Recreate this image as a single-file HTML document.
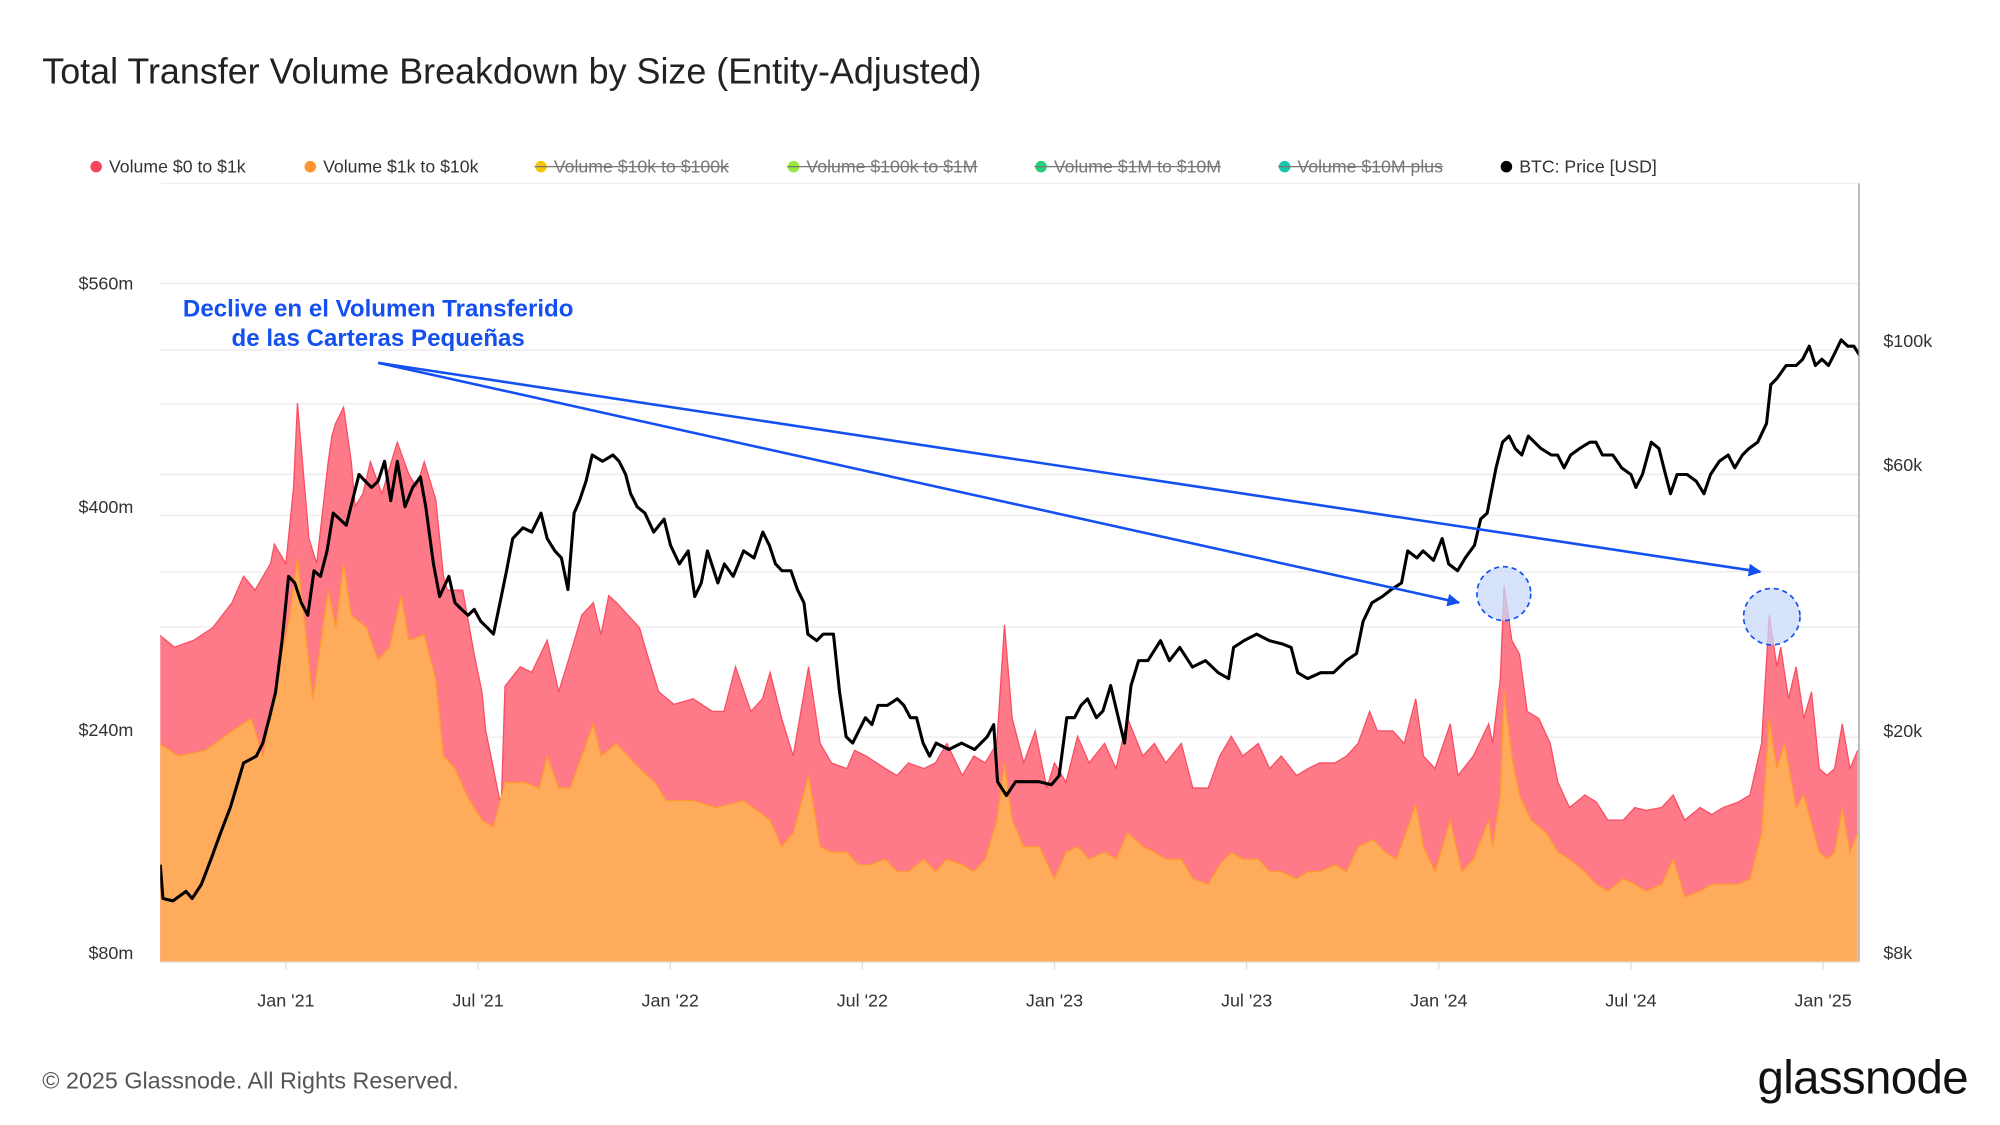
<!DOCTYPE html>
<html><head><meta charset="utf-8"><style>
html,body{margin:0;padding:0;background:#fff;}
svg{display:block;font-family:"Liberation Sans",sans-serif;}
</style></head><body>
<svg id="chart" width="2000" height="1125" viewBox="0 0 1560 877.5" xmlns="http://www.w3.org/2000/svg">
<rect x="0" y="0" width="1560" height="877.5" fill="#fff"/>
<text x="33" y="65" font-size="28" fill="#222">Total Transfer Volume Breakdown by Size (Entity-Adjusted)</text>
<g id="legend" font-size="13.8" fill="#333"></g>
<g id="grid"></g>
<defs><clipPath id="pc"><rect x="125" y="143" width="1325" height="607"/></clipPath>
<marker id="ah" viewBox="0 0 10 10" refX="9" refY="5" markerWidth="5" markerHeight="5" orient="auto"><path d="M0,0 L10,5 L0,10 z" fill="#1450f0"/></marker></defs>
<g id="plot" clip-path="url(#pc)"></g>
<line x1="1450" y1="143" x2="1450" y2="750" stroke="#999" stroke-width="1"/>
<line x1="125" y1="750.5" x2="1450" y2="750.5" stroke="#e6e6e6" stroke-width="1"/>
<g id="axes" font-size="14" fill="#333"></g>
<g id="annot">
<text x="295" y="247" font-size="18.8" font-weight="bold" fill="#1450f0" text-anchor="middle">Declive en el Volumen Transferido</text>
<text x="295" y="270" font-size="18.8" font-weight="bold" fill="#1450f0" text-anchor="middle">de las Carteras Pequeñas</text>
<line x1="295" y1="283" x2="1138" y2="470" stroke="#1450f0" stroke-width="2" marker-end="url(#ah)"/>
<line x1="295" y1="283" x2="1373" y2="446" stroke="#1450f0" stroke-width="2" marker-end="url(#ah)"/>
<ellipse cx="1173" cy="463" rx="21" ry="21" fill="#c9d9fa" fill-opacity="0.75" stroke="#1450f0" stroke-width="1.3" stroke-dasharray="4,3"/>
<ellipse cx="1382" cy="481" rx="22" ry="22" fill="#c9d9fa" fill-opacity="0.75" stroke="#1450f0" stroke-width="1.3" stroke-dasharray="4,3"/>
</g>
<text x="33" y="849" font-size="18.2" fill="#555">© 2025 Glassnode. All Rights Reserved.</text>
<text x="1535" y="853" font-size="37" fill="#111" text-anchor="end" letter-spacing="-0.5">glassnode</text>
</svg>
<script>
// Data (dates as decimal years, volume in $m, price in USD)
const redDates=[2020.67,2020.71,2020.76,2020.81,2020.86,2020.89,2020.92,2020.96,2020.97,2021.00,2021.02,2021.03,2021.04,2021.06,2021.08,2021.11,2021.12,2021.13,2021.15,2021.17,2021.18,2021.20,2021.22,2021.25,2021.27,2021.29,2021.32,2021.34,2021.36,2021.39,2021.41,2021.42,2021.46,2021.49,2021.51,2021.52,2021.54,2021.56,2021.57,2021.61,2021.64,2021.68,2021.71,2021.74,2021.77,2021.80,2021.82,2021.84,2021.86,2021.89,2021.92,2021.94,2021.97,2022.01,2022.06,2022.11,2022.14,2022.17,2022.21,2022.24,2022.26,2022.29,2022.32,2022.36,2022.39,2022.42,2022.46,2022.48,2022.51,2022.56,2022.59,2022.62,2022.66,2022.69,2022.72,2022.76,2022.79,2022.82,2022.85,2022.87,2022.89,2022.92,2022.95,2022.98,2023.00,2023.03,2023.06,2023.09,2023.13,2023.16,2023.19,2023.23,2023.26,2023.29,2023.33,2023.36,2023.40,2023.43,2023.46,2023.49,2023.53,2023.56,2023.59,2023.63,2023.66,2023.69,2023.73,2023.76,2023.79,2023.82,2023.84,2023.88,2023.91,2023.94,2023.96,2023.99,2024.03,2024.05,2024.09,2024.13,2024.14,2024.16,2024.17,2024.19,2024.21,2024.23,2024.26,2024.29,2024.31,2024.34,2024.38,2024.41,2024.44,2024.48,2024.51,2024.54,2024.58,2024.61,2024.64,2024.68,2024.71,2024.74,2024.78,2024.81,2024.84,2024.86,2024.88,2024.89,2024.91,2024.93,2024.95,2024.97,2024.99,2025.01,2025.03,2025.05,2025.07,2025.09];
const redTotal=[308,299,304,313,331,350,340,359,373,359,414,474,442,377,359,432,451,460,471,432,400,409,432,409,428,446,423,414,432,405,350,340,340,294,267,239,212,184,271,285,281,304,267,294,322,331,308,336,331,322,313,294,267,258,262,253,253,285,253,262,281,248,221,285,230,216,212,225,221,212,207,216,212,216,230,207,221,216,230,315,248,216,239,198,216,202,235,216,230,212,248,221,230,216,230,198,198,221,235,221,230,212,221,207,212,216,216,221,230,253,239,239,230,262,221,212,244,207,221,244,230,276,343,304,294,253,248,230,202,184,193,188,175,175,184,182,184,193,175,184,179,184,188,193,230,322,285,299,262,285,248,267,212,207,212,244,212,225];
const orangeDates=[2020.67,2020.72,2020.79,2020.86,2020.91,2020.94,2020.97,2021.01,2021.03,2021.05,2021.07,2021.11,2021.13,2021.15,2021.17,2021.21,2021.24,2021.27,2021.30,2021.32,2021.36,2021.39,2021.41,2021.44,2021.47,2021.51,2021.54,2021.57,2021.62,2021.66,2021.68,2021.71,2021.74,2021.77,2021.80,2021.82,2021.86,2021.89,2021.92,2021.96,2021.99,2022.06,2022.12,2022.19,2022.26,2022.29,2022.32,2022.36,2022.39,2022.42,2022.46,2022.49,2022.52,2022.56,2022.59,2022.62,2022.66,2022.69,2022.72,2022.76,2022.79,2022.82,2022.85,2022.87,2022.89,2022.92,2022.96,2023.00,2023.03,2023.06,2023.09,2023.13,2023.16,2023.19,2023.23,2023.26,2023.29,2023.33,2023.36,2023.40,2023.43,2023.46,2023.49,2023.53,2023.56,2023.59,2023.63,2023.66,2023.69,2023.73,2023.76,2023.79,2023.83,2023.86,2023.89,2023.94,2023.96,2023.99,2024.03,2024.06,2024.09,2024.13,2024.14,2024.16,2024.17,2024.19,2024.21,2024.24,2024.28,2024.31,2024.34,2024.38,2024.41,2024.44,2024.48,2024.51,2024.54,2024.58,2024.61,2024.64,2024.68,2024.71,2024.74,2024.78,2024.81,2024.84,2024.86,2024.88,2024.90,2024.93,2024.95,2024.99,2025.01,2025.03,2025.05,2025.07,2025.09];
const orangeVol=[230,221,225,239,248,221,267,322,363,313,262,340,313,359,322,313,290,299,336,304,308,276,221,212,193,175,170,202,202,198,221,198,198,221,244,221,230,221,212,202,189,189,184,189,175,156,166,207,156,152,152,143,143,147,138,138,147,138,147,143,138,147,175,216,175,156,156,133,152,156,147,152,147,166,156,152,147,147,133,129,143,152,147,147,138,138,133,138,138,143,138,156,161,152,147,186,156,138,175,138,147,175,156,193,267,221,193,175,166,152,147,138,129,124,133,129,124,129,147,120,124,129,129,129,133,166,248,212,230,184,193,152,147,152,184,152,166];
const priceDates=[2020.673,2020.680,2020.706,2020.740,2020.756,2020.780,2020.806,2020.830,2020.856,2020.890,2020.923,2020.940,2020.957,2020.973,2020.990,2021.007,2021.023,2021.040,2021.057,2021.073,2021.090,2021.107,2021.123,2021.140,2021.157,2021.173,2021.190,2021.207,2021.223,2021.240,2021.257,2021.273,2021.290,2021.310,2021.330,2021.350,2021.364,2021.384,2021.400,2021.424,2021.440,2021.457,2021.474,2021.490,2021.507,2021.524,2021.540,2021.557,2021.574,2021.590,2021.617,2021.640,2021.664,2021.680,2021.700,2021.717,2021.734,2021.750,2021.764,2021.781,2021.797,2021.824,2021.851,2021.867,2021.884,2021.897,2021.914,2021.934,2021.957,2021.984,2022.001,2022.024,2022.047,2022.064,2022.081,2022.097,2022.124,2022.141,2022.164,2022.191,2022.218,2022.241,2022.258,2022.274,2022.291,2022.314,2022.331,2022.348,2022.358,2022.381,2022.398,2022.425,2022.441,2022.458,2022.475,2022.491,2022.508,2022.525,2022.541,2022.565,2022.591,2022.608,2022.625,2022.641,2022.658,2022.675,2022.692,2022.725,2022.758,2022.792,2022.825,2022.842,2022.852,2022.875,2022.899,2022.925,2022.959,2022.992,2023.012,2023.032,2023.052,2023.069,2023.086,2023.109,2023.126,2023.146,2023.166,2023.182,2023.199,2023.219,2023.243,2023.276,2023.299,2023.326,2023.359,2023.393,2023.426,2023.453,2023.466,2023.493,2023.526,2023.559,2023.593,2023.616,2023.633,2023.659,2023.693,2023.726,2023.759,2023.786,2023.803,2023.826,2023.853,2023.876,2023.903,2023.919,2023.943,2023.959,2023.986,2024.009,2024.026,2024.049,2024.069,2024.093,2024.109,2024.126,2024.149,2024.166,2024.183,2024.199,2024.216,2024.233,2024.249,2024.266,2024.293,2024.309,2024.326,2024.343,2024.366,2024.393,2024.409,2024.426,2024.453,2024.476,2024.500,2024.513,2024.530,2024.553,2024.573,2024.590,2024.603,2024.620,2024.646,2024.670,2024.690,2024.707,2024.730,2024.753,2024.770,2024.790,2024.807,2024.830,2024.853,2024.864,2024.880,2024.904,2024.930,2024.947,2024.964,2024.980,2024.997,2025.014,2025.031,2025.047,2025.064,2025.080,2025.096];
const priceK=[11.5,10.0,9.9,10.3,10.0,10.6,11.8,13.1,14.6,17.5,18.0,19.0,21.1,23.4,29.0,37.8,36.8,33.9,32.2,38.7,37.8,42.0,49.1,47.9,46.7,51.7,57.6,56.0,54.6,56.0,60.8,51.7,60.8,50.4,54.6,57.0,50.4,39.8,34.8,37.8,33.9,33.0,32.2,33.0,31.4,30.6,29.8,33.9,38.7,44.2,46.2,45.4,49.1,44.2,42.0,40.8,35.8,49.1,51.7,56.0,62.4,60.8,62.4,60.8,57.6,53.2,50.4,49.1,45.4,47.9,43.0,39.8,42.0,34.8,36.8,42.0,36.8,39.8,37.8,42.0,40.8,45.4,43.0,39.8,38.7,38.7,35.8,33.9,29.8,29.0,29.8,29.8,23.4,19.5,19.0,20.0,21.1,20.5,22.2,22.2,22.8,22.2,21.1,21.1,19.0,18.0,19.0,18.5,19.0,18.5,19.5,20.5,16.2,15.3,16.2,16.2,16.2,16.0,16.6,21.1,21.1,22.2,22.8,21.1,21.7,24.1,21.1,19.0,24.1,26.7,26.7,29.0,26.7,28.2,26.0,26.7,25.4,24.8,28.2,29.0,29.8,29.0,28.6,28.2,25.4,24.8,25.4,25.4,26.7,27.5,31.4,33.9,34.8,35.8,36.8,42.0,40.8,42.0,40.4,44.2,39.8,38.7,40.8,43.0,47.9,49.1,59.2,65.8,67.5,64.1,62.4,67.5,65.8,64.1,62.4,62.4,59.2,62.4,64.1,65.8,65.8,62.4,62.4,59.2,57.6,54.6,57.6,65.8,64.1,57.6,53.2,57.6,57.6,56.0,53.2,57.6,60.8,62.4,59.2,62.4,64.1,65.8,71.1,83.4,85.6,90.3,90.3,92.7,97.8,90.3,92.7,90.3,95.2,100.4,97.8,97.8,94.0];
const leftTicks=[80,240,400,560];
const leftTickLabels=["$80m","$240m","$400m","$560m"];
const rightTicks=[8000,20000,60000,100000];
const rightTickLabels=["$8k","$20k","$60k","$100k"];
const xTicks=[2021,2021.5,2022,2022.5,2023,2023.5,2024,2024.5,2025];
const xTickLabels=["Jan '21","Jul '21","Jan '22","Jul '22","Jan '23","Jul '23","Jan '24","Jul '24","Jan '25"];
const legendLabels=["Volume $0 to $1k","Volume $1k to $10k","Volume $10k to $100k","Volume $100k to $1M","Volume $1M to $10M","Volume $10M plus","BTC: Price [USD]"];

const NS="http://www.w3.org/2000/svg";
const X0=125,X1=1450,YB=750;
function xS(t){return 223+(t-2021)*299.75;}
function yL(v){return 743-(v-80)*174/160;}
function yR(p){return 743-Math.log10(p/8000)*435;}
function mk(tag,attrs,parent){const e=document.createElementNS(NS,tag);for(const k in attrs)e.setAttribute(k,attrs[k]);parent.appendChild(e);return e;}

const legend=document.getElementById('legend');
const legX=[75,242,422,619,812,1002,1175];
const legC=["#f6465d","#ff9431","#f5c800","#96e83c","#1fd17a","#17c7a8","#000"];
for(let i=0;i<legendLabels.length;i++){
  const g=mk('g',{},legend);
  
  
  const off=i>=2&&i<=5;
  mk('circle',{cx:legX[i],cy:130,r:4.5,fill:legC[i]},g);
  const t=mk('text',{x:legX[i]+10,y:134.5,fill:off?'#777':'#333'},g);
  t.textContent=legendLabels[i];
  if(off){const w=t.getComputedTextLength();mk('line',{x1:legX[i]-5,y1:130,x2:legX[i]+10+w,y2:130,stroke:'#777','stroke-width':1},g);}
}

const grid=document.getElementById('grid');
[221,273,315,370,402,446,489,575].forEach(y=>{mk('line',{x1:X0,y1:y,x2:X1,y2:y,stroke:'#efefef','stroke-width':1.3},grid);});
mk('line',{x1:X0,y1:143,x2:X1,y2:143,stroke:'#efefef','stroke-width':1},grid);

const plot=document.getElementById('plot');
function areaPath(ds,vs){let d='M'+xS(ds[0])+','+YB;for(let i=0;i<ds.length;i++)d+=' L'+xS(ds[i]).toFixed(1)+','+yL(vs[i]).toFixed(1);d+=' L'+xS(ds[ds.length-1])+','+YB+' Z';return d;}
function linePath(ds,vs,f){let d='';for(let i=0;i<ds.length;i++)d+=(i?' L':'M')+xS(ds[i]).toFixed(1)+','+f(vs[i]).toFixed(1);return d;}
const ra=mk('path',{d:areaPath(redDates,redTotal),fill:'#ff7a89'},plot);


mk('path',{d:linePath(redDates,redTotal,yL),fill:'none',stroke:'#f84e62','stroke-width':1},plot);
const oa=mk('path',{d:areaPath(orangeDates,orangeVol),fill:'#ffab5c'},plot);


mk('path',{d:linePath(orangeDates,orangeVol,yL),fill:'none',stroke:'#ff9a2e','stroke-width':1},plot);
const pl=mk('path',{d:linePath(priceDates,priceK.map(v=>v*1000),yR),fill:'none',stroke:'#000','stroke-width':2.4,'stroke-linejoin':'round'},plot);



const axes=document.getElementById('axes');
leftTicks.forEach((v,i)=>{const t=mk('text',{x:104,y:yL(v)+5,'text-anchor':'end'},axes);t.textContent=leftTickLabels[i];

});
rightTicks.forEach((v,i)=>{const t=mk('text',{x:1469,y:yR(v)+5},axes);t.textContent=rightTickLabels[i];

});
xTicks.forEach((v,i)=>{const x=xS(v);mk('line',{x1:x,y1:750,x2:x,y2:756,stroke:'#ddd'},axes);
const t=mk('text',{x:x,y:785,'text-anchor':'middle'},axes);t.textContent=xTickLabels[i];

});
</script>
</body></html>
